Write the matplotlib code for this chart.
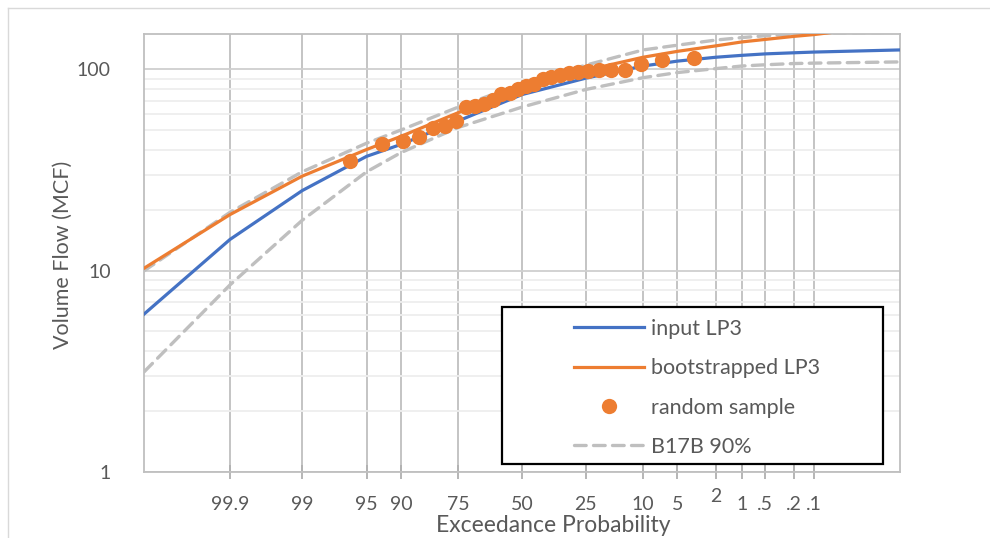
import numpy as np
import matplotlib
matplotlib.use('Agg')
import matplotlib.pyplot as plt
import matplotlib.transforms as mtransforms
from matplotlib.patches import Rectangle
from matplotlib.lines import Line2D
from statistics import NormalDist

# exceedance probabilities (%) where the curves were read
curve_prob = [99.9968, 99.9, 99, 95, 90, 75, 50, 25, 10, 5, 2, 1, 0.5, 0.2, 0.1, 0.0032]
input_lp3 = [6.1, 14.3, 25, 37, 42.4, 55.5, 75, 90.5, 104, 110, 115, 117.5, 119.5, 121, 122, 125]
boot_lp3 = [10.3, 19, 29.5, 40, 46.5, 61, 80, 99, 115, 123, 131, 137, 141, 146, 149, 168]
b17b_upper = [10.0, 19.5, 31, 43, 50, 65, 85, 105, 125, 132, 140, 144, 147, 150, 151, 153]
b17b_lower = [3.15, 8.5, 17.8, 31, 38.6, 51.5, 65, 79.5, 91, 96.5, 101, 104, 105.5, 107, 107.5, 109]

# random sample (plotting positions, %)
sample_prob = [96.55, 93.10, 89.66, 86.21, 82.76, 79.31, 75.86, 72.41, 68.97, 65.52,
               62.07, 58.62, 55.17, 51.72, 48.28, 44.83, 41.38, 37.93, 34.48, 31.03,
               27.59, 24.14, 20.69, 17.24, 13.79, 10.34, 6.90, 3.45]
sample_flow = [35.0, 42.4, 44.0, 46.3, 51.3, 52.6, 55.3, 65.2, 66.2, 67.0,
               70.9, 75.1, 76.0, 79.5, 82.6, 84.2, 89.9, 92.0, 93.4, 96.3,
               97.5, 98.0, 98.8, 98.8, 99.0, 107.0, 111.3, 114.4]

tick_prob = [99.9, 99, 95, 90, 75, 50, 25, 10, 5, 2, 1, 0.5, 0.2, 0.1]
tick_labels = ['99.9', '99', '95', '90', '75', '50', '25', '10', '5', '2', '1', '.5', '.2', '.1']

nd = NormalDist()
def to_z(p):
    return [nd.inv_cdf(1 - v / 100.0) for v in p]

plt.rcParams['font.family'] = ['Lato', 'DejaVu Sans']
txt = '#595959'
blue = '#4472C4'
orange = '#ED7D31'
gray = '#BFBFBF'

W, H = 990, 538
fig = plt.figure(figsize=(W / 100, H / 100), dpi=100)
ax = fig.add_axes([144 / W, 1 - 472 / H, (900 - 144) / W, (472 - 34) / H])

ax.plot(to_z(curve_prob), input_lp3, color=blue, lw=2.3, label='input LP3', zorder=3)
ax.plot(to_z(curve_prob), boot_lp3, color=orange, lw=2.3, label='bootstrapped LP3', zorder=4)
ax.plot(to_z(sample_prob), sample_flow, 'o', color=orange, ms=11, mec='none',
        label='random sample', zorder=5)
ax.plot(to_z(curve_prob), b17b_upper, color=gray, lw=2.4, dashes=(3.5, 2.2),
        dash_capstyle='round', label='B17B 90%', zorder=2)
ax.plot(to_z(curve_prob), b17b_lower, color=gray, lw=2.4, dashes=(3.5, 2.2),
        dash_capstyle='round', zorder=2)

ax.set_yscale('log')
ax.set_ylim(1, 150)
ax.set_xlim(-4, 4)

# crossing tick marks on the bottom axis
ax.set_xticks(to_z(tick_prob))
ax.set_xticklabels([])
ax.tick_params(axis='x', length=10, width=1.3, direction='inout', color='#B0B0B0')
ax.set_yticks([1, 10, 100])
ax.set_yticklabels(['1', '10', '100'])
ax.yaxis.set_minor_formatter(matplotlib.ticker.NullFormatter())
ax.tick_params(axis='y', which='both', length=0, pad=24, labelsize=14, labelcolor=txt)

ax.grid(axis='x', color=gray, lw=1.3)
ax.grid(axis='y', which='major', color='#CFCFCF', lw=1.3)
ax.grid(axis='y', which='minor', color='#EEEEEE', lw=1.3)
ax.set_axisbelow(True)
for s in ax.spines.values():
    s.set_color(gray)
    s.set_linewidth(1.3)

# probability labels
trans = mtransforms.blended_transform_factory(ax.transData, fig.transFigure)
for z, lab in zip(to_z(tick_prob), tick_labels):
    yy = 1 - 496 / H if lab == '2' else 1 - 505 / H
    ax.text(z, yy, lab, transform=trans, ha='center', va='center', fontsize=14, color=txt)

fig.text(553 / W, 1 - 526 / H, 'Exceedance Probability', ha='center', va='center',
         fontsize=16.5, color=txt)
fig.text(63 / W, 1 - 255 / H, 'Volume Flow (MCF)', ha='center', va='center',
         rotation=90, fontsize=15.5, color=txt)

# legend with a white box
box = Rectangle((502 / W, 1 - 464 / H), 381 / W, 157 / H, transform=fig.transFigure,
                facecolor='white', edgecolor='black', lw=1.6, zorder=4.5, clip_on=False)
ax.add_artist(box)
leg = ax.legend(loc='upper left', bbox_to_anchor=(563 / W, 1 - 308 / H),
                bbox_transform=fig.transFigure, frameon=False, borderpad=0,
                handlelength=3.25, handletextpad=0.33, labelspacing=0.9,
                fontsize=15.5, labelcolor=txt)
leg.set_zorder(6)

# outer chart border
fig.add_artist(Line2D([8 / W, 8 / W], [0, 1 - 8 / H], color='#D9D9D9', lw=1))
fig.add_artist(Line2D([8 / W, 1], [1 - 8 / H, 1 - 8 / H], color='#D9D9D9', lw=1))

fig.savefig('out.png', dpi=100)
